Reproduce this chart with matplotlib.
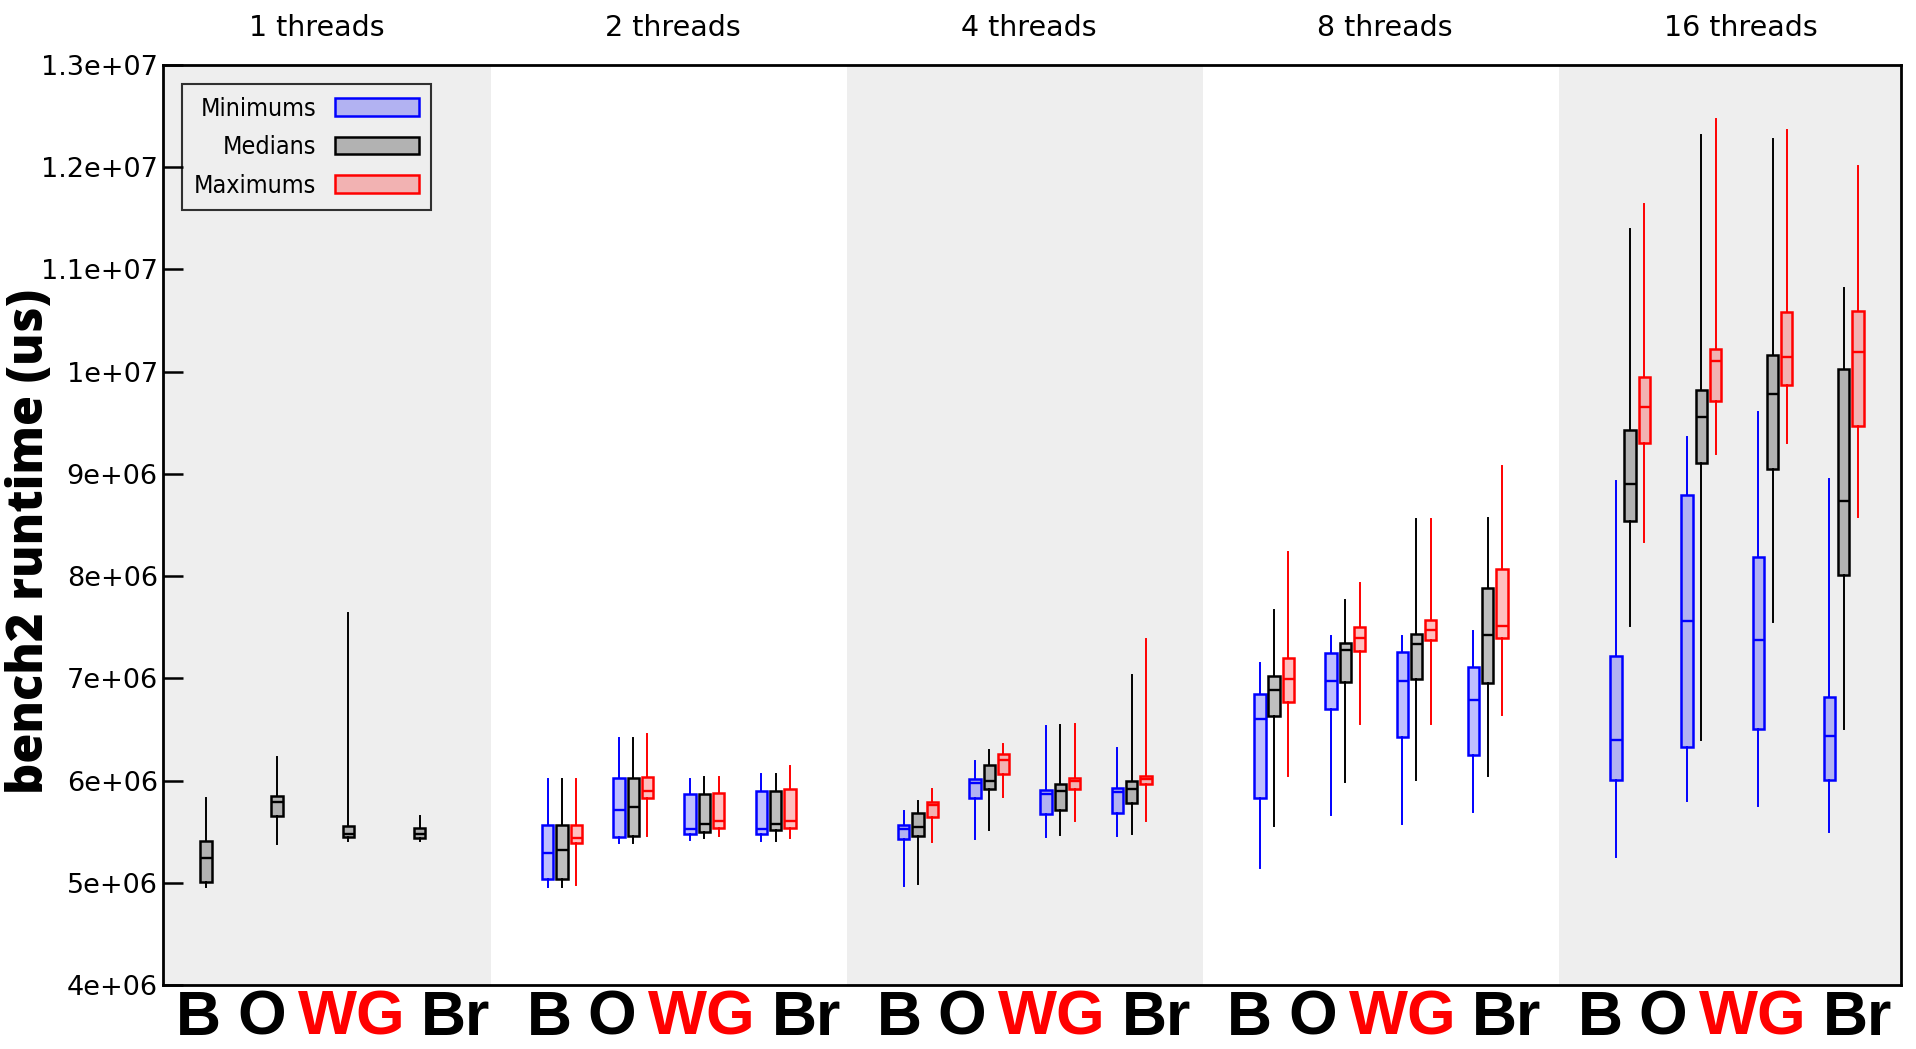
from __future__ import annotations

import matplotlib

matplotlib.use("Agg")
import matplotlib.pyplot as plt
from matplotlib import font_manager
from matplotlib.patches import Patch
from matplotlib.ticker import FuncFormatter, MultipleLocator

THREADS = [1, 2, 4, 8, 16]
PROGRAMS = ["B", "O", "WG", "Br"]
PROGRAM_COLORS = ["black", "black", "red", "black"]
SERIES = ["Minimums", "Medians", "Maximums"]

# per program: whislo, q1, median, q3, whishi  (units of 1e6 us)
MED_1 = [[4.955, 5.004, 5.24, 5.41, 5.825], [5.375, 5.65, 5.79, 5.85, 6.235],
         [5.41, 5.45, 5.48, 5.554, 7.636], [5.405, 5.44, 5.476, 5.54, 5.655]]

MIN_2 = [[4.961, 5.033, 5.287, 5.564, 6.014], [5.391, 5.45, 5.717, 6.027, 6.418],
         [5.417, 5.473, 5.525, 5.873, 6.02], [5.408, 5.473, 5.522, 5.9, 6.069]]
MED_2 = [[4.961, 5.033, 5.32, 5.564, 6.014], [5.391, 5.456, 5.737, 6.027, 6.418],
         [5.434, 5.499, 5.574, 5.873, 6.033], [5.41, 5.512, 5.58, 5.9, 6.069]]
MAX_2 = [[4.977, 5.39, 5.434, 5.564, 6.014], [5.46, 5.825, 5.896, 6.031, 6.454],
         [5.46, 5.538, 5.606, 5.883, 6.033], [5.44, 5.54, 5.6, 5.916, 6.141]]

MIN_4 = [[4.968, 5.427, 5.522, 5.564, 5.701], [5.427, 5.834, 5.981, 6.02, 6.192],
         [5.444, 5.672, 5.873, 5.906, 6.535], [5.46, 5.678, 5.89, 5.929, 6.315]]
MED_4 = [[4.987, 5.46, 5.541, 5.678, 5.799], [5.515, 5.916, 6.0, 6.149, 6.302],
         [5.466, 5.717, 5.9, 5.971, 6.542], [5.476, 5.776, 5.913, 5.994, 7.033]]
MAX_4 = [[5.401, 5.645, 5.76, 5.786, 5.916], [5.84, 6.069, 6.2, 6.257, 6.358],
         [5.606, 5.922, 5.997, 6.027, 6.554], [5.606, 5.962, 6.014, 6.043, 7.382]]

MIN_8 = [[5.14, 5.831, 6.603, 6.845, 7.151], [5.668, 6.698, 6.978, 7.245, 7.415],
         [5.58, 6.424, 6.978, 7.258, 7.415], [5.694, 6.249, 6.786, 7.115, 7.464]]
MED_8 = [[5.554, 6.632, 6.884, 7.027, 7.669], [5.987, 6.969, 7.275, 7.35, 7.77],
         [6.01, 6.991, 7.336, 7.434, 8.555], [6.046, 6.955, 7.425, 7.888, 8.568]]
MAX_8 = [[6.046, 6.77, 6.995, 7.197, 8.233], [6.558, 7.272, 7.399, 7.499, 7.932],
         [6.558, 7.375, 7.47, 7.571, 8.555], [6.646, 7.395, 7.509, 8.07, 9.077]]

MIN_16 = [[5.25, 6.009, 6.398, 7.22, 8.927], [5.804, 6.33, 7.56, 8.79, 9.363],
          [5.756, 6.508, 7.374, 8.19, 9.61], [5.494, 6.009, 6.432, 6.821, 8.95]]
MED_16 = [[7.516, 8.542, 8.902, 9.427, 11.393], [6.393, 9.11, 9.558, 9.818, 12.311],
          [7.555, 9.051, 9.78, 10.168, 12.277], [6.504, 8.007, 8.732, 10.023, 10.815]]
MAX_16 = [[8.335, 9.303, 9.653, 9.949, 11.645], [9.19, 9.711, 10.1, 10.222, 12.47],
          [9.303, 9.867, 10.148, 10.586, 12.365], [8.575, 9.469, 10.19, 10.595, 12.014]]

# (series index, data) for each thread group
GROUPS = [
    [(1, MED_1)],
    [(0, MIN_2), (1, MED_2), (2, MAX_2)],
    [(0, MIN_4), (1, MED_4), (2, MAX_4)],
    [(0, MIN_8), (1, MED_8), (2, MAX_8)],
    [(0, MIN_16), (1, MED_16), (2, MAX_16)],
]

EDGE = ["blue", "black", "red"]
FILL = [(0, 0, 1, 0.25), (0, 0, 0, 0.25), (1, 0, 0, 0.25)]
SUB_OFFSETS = [-0.3, -0.1, 0.1, 0.3]
SERIES_OFFSETS = [-0.04, 0.0, 0.04]
WORD_OFFSETS = [-0.382, -0.206, 0.047, 0.340]
BAND = "#eeeeee"


def _narrow_font() -> dict:
    names = {f.name for f in font_manager.fontManager.ttflist}
    if "Liberation Sans Narrow" in names:
        return {"family": "Liberation Sans Narrow", "size": 21}
    return {"family": "DejaVu Sans", "stretch": "condensed", "size": 18}


def _stats(row: list[float]) -> dict:
    lo, q1, med, q3, hi = [v * 1e6 for v in row]
    return {"whislo": lo, "q1": q1, "med": med, "q3": q3, "whishi": hi, "fliers": []}


def draw_groups(ax) -> None:
    for g, group in enumerate(GROUPS):
        for s, data in group:
            positions = [g + off + SERIES_OFFSETS[s] for off in SUB_OFFSETS]
            ax.bxp(
                [_stats(r) for r in data],
                positions=positions,
                widths=0.032,
                patch_artist=True,
                showcaps=False,
                showfliers=False,
                manage_ticks=False,
                boxprops=dict(facecolor=FILL[s], edgecolor=EDGE[s], linewidth=1.8),
                whiskerprops=dict(color=EDGE[s], linewidth=1.4),
                medianprops=dict(color=EDGE[s], linewidth=1.7),
                zorder=3,
            )


def main() -> None:
    fig = plt.figure(figsize=(19.16, 10.49), dpi=100)
    ax = fig.add_axes([0.0849, 0.061, 0.9071, 0.877])

    for g in range(0, len(THREADS), 2):
        ax.axvspan(g - 0.5, g + 0.5, color=BAND, lw=0, zorder=0)

    draw_groups(ax)

    ax.set_xlim(-0.4216, 4.46)
    ax.set_ylim(4e6, 1.3e7)
    ax.yaxis.set_major_locator(MultipleLocator(1e6))
    ax.yaxis.set_major_formatter(FuncFormatter(lambda v, _: f"{v:.2g}"))
    ax.tick_params(axis="y", direction="in", length=14.5, width=1.8, pad=3.5, labelsize=19.5)
    ax.set_xticks([])
    for sp in ax.spines.values():
        sp.set_linewidth(2.0)

    # group titles and program labels
    tr = ax.get_xaxis_transform()
    lab_tr = matplotlib.transforms.blended_transform_factory(ax.transData, fig.transFigure)
    for g, t in enumerate(THREADS):
        ax.text(g + 0.012, 1.0315, f"{t} threads", transform=tr, ha="center",
                va="baseline", fontsize=20.5)
        center = 0.062 + g * 0.984
        for word, off, col in zip(PROGRAMS, WORD_OFFSETS, PROGRAM_COLORS):
            ax.text(center + off, 0.001, word, transform=lab_tr, ha="center", va="bottom",
                    fontsize=45, fontweight="bold", color=col, family="Liberation Sans",
                    clip_on=False)

    fig.text(30 / 1916, 1 - 541 / 1049, "bench2 runtime (us)", rotation=90, ha="center",
             va="center", fontsize=35, fontweight="heavy", family=["Open Sans", "DejaVu Sans"])

    handles = [Patch(facecolor=FILL[i], edgecolor=EDGE[i], linewidth=1.8) for i in range(3)]
    fnt = _narrow_font()
    leg = ax.legend(
        handles, SERIES, loc="upper left", bbox_to_anchor=(0.0109, 0.979),
        borderaxespad=0, markerfirst=False, prop=fnt, fancybox=False,
        handlelength=3.35, handleheight=0.7, handletextpad=0.75,
        labelspacing=0.58, borderpad=0.5, frameon=True,
    )
    frame = leg.get_frame()
    frame.set_facecolor("none")
    frame.set_edgecolor("black")
    frame.set_linewidth(1.5)
    leg.set_zorder(5)

    fig.savefig("out.png", dpi=100)
    plt.close(fig)


if __name__ == "__main__":
    main()
